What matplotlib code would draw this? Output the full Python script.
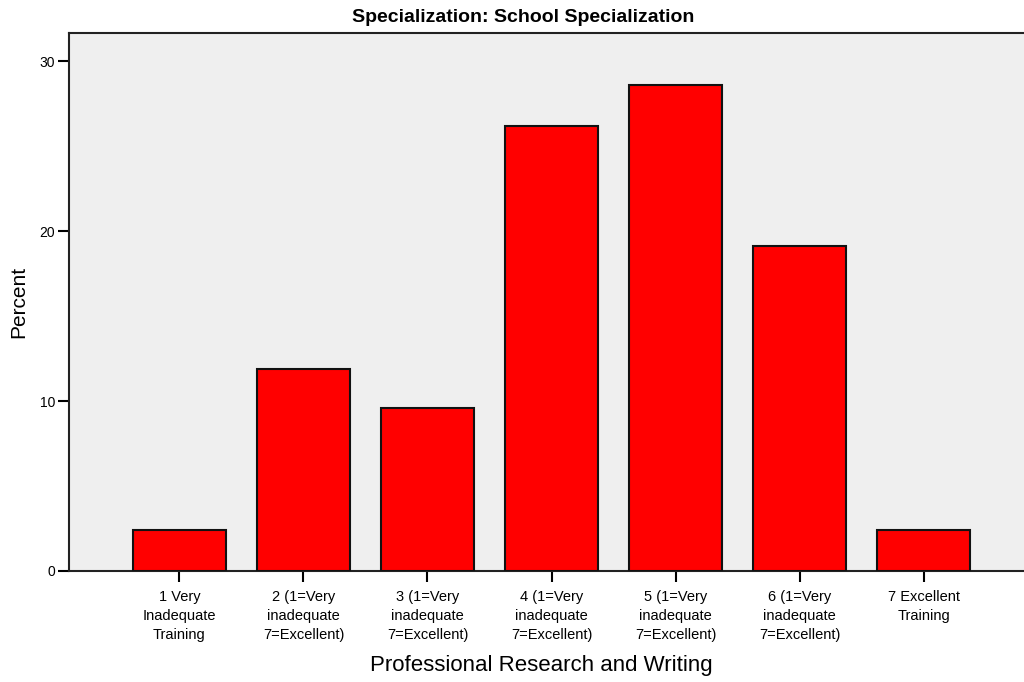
import matplotlib
matplotlib.use("Agg")
import matplotlib.pyplot as plt
import numpy as np

categories = [
    "1 Very\nInadequate\nTraining",
    "2 (1=Very\ninadequate\n7=Excellent)",
    "3 (1=Very\ninadequate\n7=Excellent)",
    "4 (1=Very\ninadequate\n7=Excellent)",
    "5 (1=Very\ninadequate\n7=Excellent)",
    "6 (1=Very\ninadequate\n7=Excellent)",
    "7 Excellent\nTraining",
]
percent = [2.4, 11.9, 9.6, 26.2, 28.6, 19.1, 2.4]
yticks = [0, 10, 20, 30]

plt.rcParams['font.family'] = ['Liberation Sans', 'DejaVu Sans']

fig = plt.figure(figsize=(10.24, 6.82), dpi=100)
ax = fig.add_axes([69/1024, 1-571/682, (1034-69)/1024, (571-33)/682])
ax.set_facecolor('#efefef')

x = np.arange(len(categories))
ax.bar(x, percent, width=0.75, color='#ff0000', edgecolor='#111111', linewidth=1.5, zorder=3)

ax.set_xlim(-0.891, 6.891)
ax.set_ylim(0, 31.65)
ax.set_yticks(yticks)
ax.set_xticks(x)
ax.set_xticklabels(categories, fontsize=10.5, linespacing=1.42)
ax.tick_params(axis='y', length=8, width=1.5, labelsize=10, pad=2)
ax.tick_params(axis='x', length=8, width=1.5, pad=6)
for s in ['top', 'left', 'bottom', 'right']:
    ax.spines[s].set_linewidth(1.5)
    ax.spines[s].set_color('#222222')

ax.set_ylabel("Percent", fontsize=15, labelpad=8)
fig.text(541/1024, 1-665/682, "Professional Research and Writing", ha='center', va='center',
         fontsize=16)
fig.text(523/1024, 1-18/682, "Specialization: School Specialization", ha='center', va='center',
         fontsize=14, fontweight='bold')

fig.savefig("out.png", dpi=100)
